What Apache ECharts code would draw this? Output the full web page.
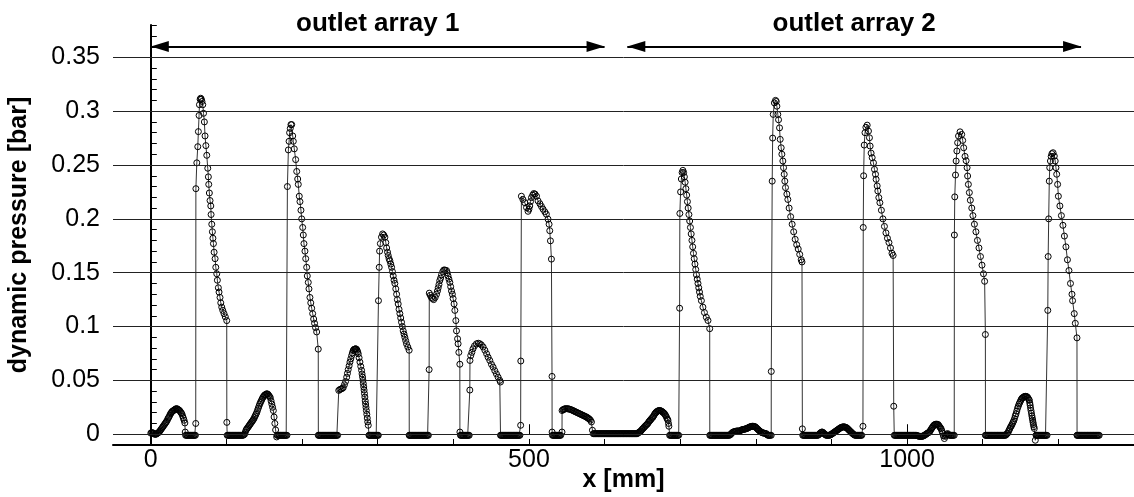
<!DOCTYPE html>
<html lang="en">

<head>
  <meta charset="UTF-8" />
  <title>dynamic pressure</title>
  <script src="https://cdn.jsdelivr.net/npm/echarts@6/dist/echarts.min.js"></script>
  <style>
    html, body { margin: 0; padding: 0; background: #fff; }
  </style>
</head>

<body>
  <div id="main" style="width: 1134px;height:497px;"></div>
  <script type="text/javascript">
    // measured points [x mm, p bar], in order along x
    var bump0 = [[0,0.001],[1,0.0015],[2,0.0015],[3,0.001],[4,0.0005],[5,0],[6,0],[7,0],[8,0.0005],[9,0.001],[10,0.0015],[11,0.002],[12,0.003],[13,0.004],[14,0.005],[15,0.006],[16,0.007],[17,0.008],[18,0.009],[19,0.010],[20,0.011],[21,0.012],[22,0.0135],[23,0.015],[24,0.016],[25,0.0175],[26,0.019],[27,0.020],[28,0.021],[29,0.0215],[30,0.022],[31,0.0225],[32,0.023],[33,0.0235],[34,0.0238],[35,0.0235],[36,0.023],[37,0.0225],[38,0.022],[39,0.021],[40,0.020],[41,0.019],[42,0.017],[43,0.015],[44,0.013],[45,0.0105],[45.5,0.002],[46,-0.001],[47,-0.001],[48,-0.001],[49,-0.001],[50,-0.001],[51,-0.001],[52,-0.001],[53,-0.001],[54,-0.001],[55,-0.001],[56,-0.001],[57,-0.001],[58,-0.001],[59,-0.001]]
    var jet1 = [[59.4,0.010],[59.6,0.228],[60.8,0.252],[62.1,0.267],[62.9,0.281],[63.8,0.296],[64.3,0.306],[65.2,0.311],[66,0.312],[66.8,0.311],[67.6,0.309],[68.7,0.306],[69.7,0.298],[70.8,0.290],[71.7,0.277],[72.8,0.268],[74,0.259],[75.3,0.247],[76.1,0.239],[76.6,0.232],[77.4,0.224],[78.3,0.217],[79.3,0.212],[79.7,0.204],[80.6,0.195],[81.4,0.188],[82.1,0.182],[82.8,0.177],[83.7,0.169],[85,0.163],[85.9,0.155],[87.2,0.149],[88,0.143],[89.3,0.136],[90.2,0.132],[91.5,0.127],[92.5,0.122],[93.8,0.118],[95.1,0.115],[96.8,0.112],[98.5,0.109],[100.4,0.1055],[100.5,0.011]]
    var flat1 = [[101,-0.001],[102,-0.001],[103,-0.001],[104,-0.001],[105,-0.001],[106,-0.001],[107,-0.001],[108,-0.001],[109,-0.001],[110,-0.001],[111,-0.001],[112,-0.001],[113,-0.001],[114,-0.001],[115,-0.001],[116,-0.001],[117,-0.001],[118,-0.001],[119,-0.001],[120,-0.001],[121,-0.001],[122,-0.001],[123,-0.0005],[124,0]]
    var bump1 = [[125,0.002],[126,0.004],[127,0.005],[128,0.006],[129,0.007],[130,0.008],[131,0.009],[132,0.010],[133,0.011],[134,0.012],[135,0.013],[136,0.014],[137,0.0155],[138,0.017],[139,0.0185],[140,0.020],[141,0.022],[142,0.024],[143,0.026],[144,0.028],[145,0.0295],[146,0.031],[147,0.0325],[148,0.034],[149,0.035],[150,0.036],[151,0.0365],[152,0.037],[153,0.0375],[154,0.0375],[155,0.037],[156,0.036],[157,0.035],[158,0.034],[159,0.031],[160,0.028],[161,0.025],[162,0.022],[163,0.016],[164,0.010],[165,0.004],[166.4,-0.0025],[167,-0.001],[168,-0.001],[169,-0.001],[170,-0.001],[171,-0.001],[172,-0.001],[173,-0.001],[174,-0.001],[175,-0.001],[176,-0.001],[177,-0.001],[178,-0.001],[179,-0.001],[180,-0.001]]
    var jet2 = [[180.6,0.230],[181.9,0.264],[182.8,0.272],[183.5,0.280],[184.4,0.284],[185.3,0.2875],[186.3,0.2875],[187.6,0.277],[188.4,0.272],[189.7,0.265],[191.5,0.255],[192.9,0.244],[194.2,0.237],[195,0.232],[196.3,0.221],[197.2,0.216],[198.5,0.208],[199.5,0.200],[200.8,0.192],[201.6,0.185],[202.5,0.177],[203.8,0.170],[204.8,0.163],[206.1,0.155],[206.9,0.147],[208.2,0.141],[209.1,0.135],[210.4,0.127],[211.5,0.122],[212.7,0.117],[214,0.112],[215.3,0.107],[216.5,0.103],[217.8,0.099],[219.3,0.095],[221.4,0.079]]
    var flat2 = [[221.5,-0.001],[222,-0.001],[223,-0.001],[224,-0.001],[225,-0.001],[226,-0.001],[227,-0.001],[228,-0.001],[229,-0.001],[230,-0.001],[231,-0.001],[232,-0.001],[233,-0.001],[234,-0.001],[235,-0.001],[236,-0.001],[237,-0.001],[238,-0.001],[239,-0.001],[240,-0.001],[241,-0.001],[242,-0.001],[243,-0.001],[244,-0.001],[245,-0.001],[246,-0.001],[247,-0.001]]
    var bump2 = [[248.5,0.0407],[250,0.0415],[251.5,0.042],[253,0.0425],[254.4,0.0432],[256,0.046],[257.5,0.049],[259,0.053],[260,0.0565],[261,0.060],[262.2,0.0635],[263.3,0.067],[264.4,0.070],[265.5,0.073],[266.5,0.0755],[267.6,0.0778],[268.6,0.0787],[269.5,0.079],[270.3,0.0792],[271,0.0793],[271.8,0.079],[272.7,0.078],[273.5,0.0765],[274.3,0.0747],[275.4,0.071],[276.5,0.067],[277.6,0.063],[278.7,0.0593],[279.3,0.056],[280,0.053],[280.5,0.050],[281,0.047],[281.5,0.044],[282,0.041],[282.5,0.0378],[283,0.0345],[283.5,0.031],[284,0.028],[284.5,0.025],[285,0.022],[285.6,0.0185],[286.2,0.015],[286.8,0.0115],[287.5,0.0083]]
    var flat3 = [[288.5,-0.001],[289,-0.001],[290,-0.001],[291,-0.001],[292,-0.001],[293,-0.001],[294,-0.001],[295,-0.001],[296,-0.001],[297,-0.001],[298,-0.001],[299,-0.001],[300,-0.001],[300.8,-0.001]]
    var jet3 = [[301,0.124],[302,0.155],[302.5,0.170],[303.5,0.177],[305,0.183],[306.5,0.186],[308,0.185],[309.5,0.183],[310.7,0.178],[311.8,0.173],[313,0.169],[313.9,0.166],[315,0.163],[316.1,0.161],[317.3,0.158],[318.4,0.155],[319.5,0.151],[320.5,0.147],[321.6,0.143],[322.7,0.140],[323.9,0.135],[325,0.130],[326,0.125],[327.1,0.121],[328.2,0.116],[329.3,0.112],[330.4,0.108],[331.5,0.104],[332.6,0.100],[333.7,0.096],[334.8,0.093],[335.9,0.090],[337,0.087],[338.1,0.084],[339.8,0.081],[341.6,0.078]]
    var flat4 = [[341.7,-0.001],[342,-0.001],[343,-0.001],[344,-0.001],[345,-0.001],[346,-0.001],[347,-0.001],[348,-0.001],[349,-0.001],[350,-0.001],[351,-0.001],[352,-0.001],[353,-0.001],[354,-0.001],[355,-0.001],[356,-0.001],[357,-0.001],[358,-0.001],[359,-0.001],[360,-0.001],[361,-0.001],[362,-0.001],[363,-0.001],[364,-0.001],[365,-0.001],[366,-0.001],[367,-0.001]]
    var jet4 = [[368,0.060],[368.2,0.131],[369.5,0.129],[371,0.127],[372.5,0.126],[374,0.125],[376,0.127],[377.8,0.130],[379,0.133],[380,0.136],[381,0.139],[382,0.1426],[383.2,0.145],[384.4,0.148],[386,0.151],[387.4,0.1525],[389,0.1525],[391,0.152],[392,0.150],[393,0.147],[394.2,0.144],[395.4,0.141],[396.5,0.137],[397.6,0.133],[398.7,0.130],[399.7,0.126],[401,0.121],[402,0.115],[403.3,0.1055],[404.2,0.096],[405.6,0.0886],[406.3,0.084],[407.3,0.076],[408.6,0.065],[408.7,0.002]]
    var flat5 = [[409.5,-0.001],[410,-0.001],[411,-0.001],[412,-0.001],[413,-0.001],[414,-0.001],[415,-0.001],[416,-0.001],[417,-0.001],[418,-0.001],[419,-0.001],[420,-0.001],[421,-0.001]]
    var jet5 = [[421.8,0.041],[422,0.0685],[423,0.073],[424.5,0.076],[426,0.0793],[428,0.082],[430.6,0.084],[433,0.0845],[435,0.084],[437,0.083],[439.4,0.081],[441.7,0.078],[444,0.0747],[446,0.0715],[448.2,0.0685],[450.4,0.065],[452.6,0.0623],[454.8,0.059],[457,0.056],[459.2,0.053],[461.4,0.050],[462.3,0.0485]]
    var flat6 = [[462.4,-0.001],[463,-0.001],[464,-0.001],[465,-0.001],[466,-0.001],[467,-0.001],[468,-0.001],[469,-0.001],[470,-0.001],[471,-0.001],[472,-0.001],[473,-0.001],[474,-0.001],[475,-0.001],[476,-0.001],[477,-0.001],[478,-0.001],[479,-0.001],[480,-0.001],[481,-0.001],[482,-0.001],[483,-0.001],[484,-0.001],[485,-0.001],[486,-0.001],[487,-0.001],[488,-0.001]]
    var jet6 = [[489,0.0083],[489.2,0.068],[490,0.221],[492,0.218],[494.5,0.215],[496.8,0.2105],[498.8,0.207],[500,0.209],[501,0.212],[502,0.216],[503.3,0.2197],[505,0.222],[506.3,0.2235],[508,0.223],[510,0.221],[512,0.2167],[514.5,0.214],[516.5,0.2115],[518.6,0.209],[521,0.2065],[523,0.2043],[525.2,0.1997],[526.6,0.195],[527.5,0.189],[528.4,0.1796],[529.7,0.1626],[530.5,0.0537],[530.6,0.002]]
    var flat7 = [[531,-0.001],[532,-0.001],[533,-0.001],[534,-0.001],[535,-0.001],[536,-0.001],[537,-0.001],[538,-0.001],[539,-0.001],[540,-0.001],[541,-0.001],[542,-0.001],[543.7,0.002]]
    var plateau = [[543.8,0.022],[545,0.0228],[546,0.023],[547,0.0234],[548,0.0237],[549.5,0.0238],[551,0.0237],[552,0.0235],[553.5,0.0233],[555,0.023],[556.5,0.0225],[558.3,0.022],[559.5,0.0215],[561,0.021],[562.5,0.0205],[564,0.020],[565.5,0.0195],[567,0.019],[568.5,0.0185],[570,0.018],[571.5,0.0175],[573,0.017],[574.5,0.0165],[576,0.016],[577,0.0155],[578,0.015],[579,0.0145],[580,0.014],[581.3,0.013],[582.6,0.0114],[583.9,0.0037]]
    var flat8 = [[585,0.0005],[586,0.0005],[587,0.0005],[588,0.0005],[589,0.0005],[590,0.0005],[591,0.0005],[592,0.0005],[593,0.0005],[594,0.0005],[595,0.0005],[596,0.0005],[597,0.0005],[598,0.0005],[599,0.0005],[600,0.0005],[601,0.0005],[602,0.0005],[603,0.0005],[604,0.0005],[605,0.0005],[606,0.0005],[607,0.0005],[608,0.0005],[609,0.0005],[610,0.0005],[611,0.0005],[612,0.0005],[613,0.0005],[614,0.0005],[615,0.0005],[616,0.0005],[617,0.0005],[618,0.0005],[619,0.0005],[620,0.0005],[621,0.0005],[622,0.0005],[623,0.0005],[624,0.0005],[625,0.0005],[626,0.0005],[627,0.0005],[628,0.0005],[629,0.0005],[630,0.0005],[631,0.0005],[632,0.0005],[633,0.0005],[634,0.0005],[635,0.0005],[636,0.0005],[637,0.0005],[638,0.0005],[639,0.0005],[640,0.0005],[641,0.0005],[642,0.0005],[643,0.0005]]
    var bump3 = [[644,0.001],[645,0.0015],[646,0.002],[647,0.0025],[648,0.003],[649,0.004],[650,0.0048],[651,0.0055],[652,0.0062],[653,0.007],[654,0.0078],[655,0.0085],[656,0.0092],[657,0.0098],[658,0.011],[659,0.012],[660,0.0128],[661,0.0135],[662,0.0145],[663,0.0153],[664,0.016],[665,0.0172],[666,0.0185],[667,0.0195],[668,0.0203],[669,0.021],[670,0.0214],[671,0.0218],[672,0.022],[673,0.022],[674,0.0218],[675,0.0215],[676,0.021],[677,0.0205],[678,0.0198],[679,0.0192],[680,0.0182],[681,0.017],[682,0.0155],[683,0.014],[683.8,0.013],[684.5,0.010],[685,0.0074]]
    var flat9 = [[686,-0.001],[687,-0.001],[688,-0.001],[689,-0.001],[690,-0.001],[691,-0.001],[692,-0.001],[693,-0.001],[694,-0.001],[695,-0.001],[696,-0.001],[697,-0.001],[698,-0.001]]
    var jet7 = [[699.2,0.117],[699.5,0.205],[700.5,0.225],[701.5,0.237],[702.5,0.243],[703.5,0.245],[704.5,0.243],[705.5,0.239],[706.5,0.234],[707.5,0.228],[708.5,0.222],[709.5,0.216],[710.5,0.210],[711.5,0.204],[712.5,0.198],[713.5,0.192],[714.5,0.186],[715.5,0.180],[716.5,0.174],[717.5,0.168],[718.5,0.163],[719.5,0.158],[720.5,0.153],[721.5,0.148],[722.5,0.144],[723.5,0.140],[724.5,0.136],[725.5,0.132],[726.5,0.128],[728,0.124],[730,0.118],[732,0.113],[734.5,0.1086],[736.7,0.1056],[739,0.098]]
    var flat10 = [[739.1,-0.001],[740,-0.001],[741,-0.001],[742,-0.001],[743,-0.001],[744,-0.001],[745,-0.001],[746,-0.001],[747,-0.001],[748,-0.001],[749,-0.001],[750,-0.001],[751,-0.001],[752,-0.001],[753,-0.001],[754,-0.001],[755,-0.001],[756,-0.001],[757,-0.001],[758,-0.001],[759,-0.001],[760,-0.001],[761,-0.001],[762,-0.001],[763,-0.001],[764,-0.001],[765,-0.001],[766,-0.0005],[767,0],[768,0.001]]
    var bump4 = [[769.6,0.002],[771,0.0022],[772,0.0025],[773,0.0027],[774,0.0028],[775,0.003],[776,0.003],[777,0.003],[778.4,0.003],[779.5,0.0033],[781,0.004],[782,0.0042],[783,0.0044],[784,0.0045],[785,0.0047],[786,0.0049],[787,0.005],[788,0.0053],[789,0.0057],[790,0.006],[791,0.0064],[792,0.0068],[793,0.007],[794,0.0072],[795,0.0074],[796,0.0074],[797,0.0073],[798,0.0072],[799,0.007],[800,0.0064],[801,0.0057],[802,0.005],[803,0.0043],[804,0.0037],[805,0.003],[806,0.0025],[807,0.002],[808,0.0015],[809,0.0013],[810,0.0011],[811,0.001],[812,0.0008],[813.7,0.0006],[815,-0.0005],[816,-0.001],[817,-0.001],[818,-0.001],[819,-0.001],[820.3,-0.001]]
    var jet8 = [[820.4,0.0583],[821.6,0.235],[822.2,0.275],[823,0.297],[824.5,0.3077],[826,0.310],[827,0.309],[827.8,0.3046],[829,0.297],[830,0.292],[831.3,0.2845],[832.2,0.2738],[833.5,0.266],[834.4,0.260],[835.7,0.2537],[836.6,0.2475],[837.5,0.2414],[838.3,0.235],[839.2,0.229],[841,0.223],[842.3,0.218],[844,0.210],[846,0.202],[848,0.195],[850,0.188],[852,0.181],[854,0.176],[856,0.172],[858,0.167],[860,0.162],[861,0.160],[861.5,0.005]]
    var flat11 = [[862,-0.001],[863,-0.001],[864,-0.001],[865,-0.001],[866,-0.001],[867,-0.001],[868,-0.001],[869,-0.001],[870,-0.001],[871,-0.001],[872,-0.001],[873,-0.001],[874,-0.001],[875,-0.001],[876,-0.001],[877,-0.001],[878,-0.001],[879,-0.001],[880,-0.001],[881,-0.001],[882,-0.001],[883,-0.0005],[884,0],[885,0.001]]
    var bump5 = [[886,0.0015],[887,0.002],[888,0.002],[889,0.0015],[890,0.0008],[891,0],[892,-0.0005],[893,-0.001],[894,-0.001],[895,-0.001],[896,-0.001],[897,-0.001],[898,-0.0008],[899,-0.0004],[900,0],[901,0.0005],[902,0.001],[903,0.0015],[904,0.002],[905,0.0025],[906,0.003],[907,0.0035],[908,0.004],[909,0.0045],[910,0.005],[911,0.0055],[912,0.006],[913,0.0063],[914,0.0066],[915,0.0068],[916,0.0069],[917,0.0068],[918,0.0066],[919,0.0063],[920,0.006],[921,0.0054],[922,0.0047],[923,0.004],[924,0.0033],[925,0.0026],[926,0.002],[927,0.0012],[928,0.0006],[929,0],[930,-0.0005],[931,-0.001],[932,-0.001],[933,-0.001],[934,-0.001],[935,-0.001],[936,-0.001],[937,-0.001],[938,-0.001],[939,-0.001],[940,-0.001],[941.6,0.0074]]
    var jet9 = [[942,0.192],[942.5,0.240],[943.3,0.2685],[944.3,0.280],[945.5,0.285],[947.2,0.287],[948.9,0.2815],[950.2,0.2753],[951.1,0.2676],[952.4,0.261],[953.8,0.2568],[955.5,0.252],[956.8,0.246],[958.2,0.2414],[959,0.2367],[960.4,0.2306],[961.3,0.2259],[962.6,0.2197],[964,0.215],[966,0.208],[968,0.200],[970,0.193],[972,0.187],[974,0.182],[976,0.178],[978,0.173],[980,0.168],[981.5,0.166],[982.3,0.026]]
    var flat12 = [[983,-0.001],[984,-0.001],[985,-0.001],[986,-0.001],[987,-0.001],[988,-0.001],[989,-0.001],[990,-0.001],[991,-0.001],[992,-0.001],[993,-0.001],[994,-0.001],[995,-0.001],[996,-0.001],[997,-0.001],[998,-0.001],[999,-0.001],[1000,-0.001],[1001,-0.001],[1002,-0.001],[1003,-0.001],[1004,-0.001],[1005,-0.001],[1006,-0.001],[1007,-0.001],[1008,-0.001],[1009,-0.001],[1010,-0.001],[1011,-0.001]]
    var bump6 = [[1012,-0.001],[1013,-0.0012],[1014,-0.0015],[1015,-0.0017],[1016,-0.0019],[1017,-0.002],[1018,-0.002],[1019,-0.002],[1020,-0.002],[1021,-0.0017],[1022,-0.0013],[1023,-0.001],[1024,-0.0005],[1025,0],[1026,0.0005],[1027,0.001],[1028,0.0014],[1029,0.0018],[1030,0.0025],[1031,0.0037],[1032,0.005],[1033,0.006],[1034,0.007],[1035,0.008],[1036,0.0087],[1037,0.0091],[1038,0.0093],[1039,0.0093],[1040,0.0092],[1041,0.009],[1042,0.008],[1043,0.007],[1044,0.006],[1045,0.005],[1046,0.003],[1047,0.001],[1048,-0.0015],[1049.3,-0.004],[1050.5,-0.002],[1051.5,-0.001],[1052.5,0],[1053.6,0.0006],[1055,-0.0005],[1056,-0.001],[1057,-0.001],[1058,-0.001],[1059,-0.001],[1060,-0.001],[1061,-0.001],[1062.3,-0.001]]
    var jet10 = [[1062.5,0.185],[1063,0.2204],[1064,0.2407],[1064.8,0.2537],[1065.8,0.263],[1066.8,0.2707],[1068,0.2769],[1070,0.2808],[1072.2,0.2784],[1073.5,0.2728],[1074.8,0.266],[1076.6,0.258],[1078,0.254],[1079.3,0.2475],[1080,0.2398],[1081,0.232],[1082.3,0.2244],[1083.6,0.2173],[1085.5,0.210],[1087,0.203],[1089,0.195],[1091,0.188],[1093,0.180],[1095,0.173],[1097,0.165],[1099,0.157],[1101,0.149],[1102.5,0.142],[1103.5,0.0926]]
    var flat13 = [[1103.6,-0.001],[1104,-0.001],[1105,-0.001],[1106,-0.001],[1107,-0.001],[1108,-0.001],[1109,-0.001],[1110,-0.001],[1111,-0.001],[1112,-0.001],[1113,-0.001],[1114,-0.001],[1115,-0.001],[1116,-0.001],[1117,-0.001],[1118,-0.001],[1119,-0.001],[1120,-0.001],[1121,-0.001],[1122,-0.001],[1123,-0.001],[1124,-0.001],[1125,-0.001],[1126,-0.001],[1127,-0.001],[1128,-0.001],[1129,-0.001],[1130,-0.001],[1131,-0.0005]]
    var bump7 = [[1132,0.0005],[1133,0.001],[1134,0.0025],[1135,0.004],[1136,0.0055],[1137,0.007],[1138,0.008],[1139,0.0095],[1140,0.011],[1141,0.0125],[1142,0.0145],[1143,0.017],[1144,0.019],[1145,0.0215],[1146,0.024],[1147,0.026],[1148,0.028],[1149,0.0295],[1150,0.031],[1151,0.0325],[1152,0.0335],[1153,0.034],[1154,0.0345],[1155,0.035],[1156,0.0352],[1157,0.0352],[1158,0.035],[1159,0.0345],[1160,0.0335],[1161,0.0322],[1161.6,0.0315],[1162.2,0.029],[1162.7,0.027],[1163.2,0.0245],[1163.8,0.022],[1164.4,0.0195],[1165,0.017],[1165.5,0.015],[1166,0.013],[1166.5,0.011],[1167,0.009],[1167.6,0.007],[1168.2,0.0053],[1169.5,-0.0056]]
    var flat14 = [[1170.5,-0.001],[1171,-0.001],[1172,-0.001],[1173,-0.001],[1174,-0.001],[1175,-0.001],[1176,-0.001],[1177,-0.001],[1178,-0.001],[1179,-0.001],[1180,-0.001],[1181,-0.001],[1182,-0.001],[1183,-0.001],[1184,-0.001],[1185,-0.001]]
    var jet11 = [[1186,0.115],[1186.5,0.165],[1187.2,0.200],[1188,0.235],[1188.6,0.2475],[1189.5,0.2537],[1190.5,0.258],[1191.5,0.2605],[1193,0.2614],[1194.6,0.2583],[1195.8,0.2537],[1196.8,0.2475],[1197.8,0.2414],[1199,0.232],[1200,0.221],[1202,0.212],[1204,0.203],[1206,0.194],[1208,0.184],[1210,0.174],[1212,0.162],[1214,0.152],[1216,0.140],[1218,0.130],[1218.8,0.124],[1221,0.112],[1222.4,0.103],[1224.6,0.0895]]
    var flat15 = [[1224.7,-0.001],[1225,-0.001],[1226,-0.001],[1227,-0.001],[1228,-0.001],[1229,-0.001],[1230,-0.001],[1231,-0.001],[1232,-0.001],[1233,-0.001],[1234,-0.001],[1235,-0.001],[1236,-0.001],[1237,-0.001],[1238,-0.001],[1239,-0.001],[1240,-0.001],[1241,-0.001],[1242,-0.001],[1243,-0.001],[1244,-0.001],[1245,-0.001],[1246,-0.001],[1247,-0.001],[1248,-0.001],[1249,-0.001],[1250,-0.001],[1251,-0.001],[1252,-0.001],[1253,-0.001],[1254,-0.001]]

    // axis ticks / labels
    var xLabelVals = [0, 500, 1000]
    var xMinorTicks = [0, 100, 200, 300, 400, 500, 600, 700, 800, 900, 1000, 1100, 1200]
    var yGrid = [0, 0.05, 0.1, 0.15, 0.2, 0.25, 0.3, 0.35]

    // the two arrows over the outlet arrays
    var arrowLabels = ['outlet array 1', 'outlet array 2']
    var arrowSpans = [[0, 600], [630, 1230]]
    var arrowLevel = 0.36

    var points = [].concat(bump0, jet1, flat1, bump1, jet2, flat2, bump2, flat3, jet3, flat4,
      jet4, flat5, jet5, flat6, jet6, flat7, plateau, flat8, bump3, flat9, jet7, flat10,
      bump4, jet8, flat11, bump5, jet9, flat12, bump6, jet10, flat13, bump7, flat14, jet11, flat15)

    var FONT = 'Liberation Sans, Arial, sans-serif'
    var myChart = echarts.init(document.getElementById('main'))

    var option = {
      backgroundColor: '#fff',
      animation: false,
      grid: { left: 113, right: 0, top: 25, bottom: 52, containLabel: false, outerBoundsMode: 'none' },
      xAxis: [{
        type: 'value', min: -50, max: 1300, position: 'bottom',
        name: 'x [mm]', nameLocation: 'middle', nameGap: 23, nameMoveOverlap: false,
        nameTextStyle: { color: '#000', fontSize: 25, fontWeight: 'bold', fontFamily: FONT },
        axisLine: { show: true, onZero: false, lineStyle: { color: '#000', width: 2 } },
        axisTick: { show: true, inside: true, length: 6, customValues: xMinorTicks, lineStyle: { color: '#000', width: 1 } },
        axisLabel: {
          customValues: xLabelVals, color: '#000', fontSize: 25, fontFamily: FONT, margin: 3,
          formatter: function (v) { return String(v) }
        },
        splitLine: { show: false }
      }, {
        // longer ticks at the labelled values
        type: 'value', min: -50, max: 1300, position: 'bottom',
        axisLine: { show: false },
        axisTick: { show: true, inside: true, length: 10, customValues: xLabelVals, lineStyle: { color: '#000', width: 1 } },
        axisLabel: { show: false },
        splitLine: { show: false }
      }],
      yAxis: {
        type: 'value', min: -0.01, max: 0.38, interval: 0.01,
        name: 'dynamic pressure [bar]', nameLocation: 'middle', nameGap: 81, nameMoveOverlap: false,
        nameTextStyle: { color: '#000', fontSize: 25, fontWeight: 'bold', fontFamily: FONT },
        axisLine: { show: true, lineStyle: { color: '#000', width: 2 } },
        axisTick: { show: true, inside: true, length: 6, lineStyle: { color: '#000', width: 1 } },
        axisLabel: {
          color: '#000', fontSize: 25, fontFamily: FONT, margin: 13,
          formatter: function (v) {
            var k = Math.round(v * 100)
            return (k >= 0 && k % 5 === 0) ? String(k / 100) : ''
          }
        },
        splitLine: { show: false }
      },
      series: [{
        // horizontal grid lines
        type: 'line', data: [], z: 1, silent: true,
        markLine: {
          silent: true, animation: false, symbol: ['none', 'none'],
          label: { show: false },
          lineStyle: { color: '#222', width: 1, type: 'solid' },
          emphasis: { disabled: true },
          data: yGrid.map(function (v) { return { yAxis: v } })
        }
      }, {
        type: 'line', data: points, z: 3, silent: true,
        symbol: 'circle', symbolSize: 6,
        itemStyle: { color: 'rgba(0,0,0,0)', borderColor: '#000', borderWidth: 1 },
        lineStyle: { color: '#333', width: 1 },
        emphasis: { disabled: true }
      }, {
        // arrows with the outlet array labels
        type: 'line', data: [], z: 4, silent: true,
        markLine: {
          silent: true, animation: false,
          symbol: ['triangle', 'triangle'], symbolSize: [11, 18], symbolOffset: [[0, 9], [0, 9]],
          lineStyle: { color: '#000', width: 2, type: 'solid' },
          label: {
            show: true, position: 'middle', formatter: '{b}', distance: 10,
            color: '#000', fontSize: 26, fontWeight: 'bold', fontFamily: FONT
          },
          emphasis: { disabled: true },
          data: arrowSpans.map(function (s, i) {
            return [{ coord: [s[0], arrowLevel], name: arrowLabels[i] }, { coord: [s[1], arrowLevel] }]
          })
        }
      }]
    }
    myChart.setOption(option)
  </script>
</body>

</html>
